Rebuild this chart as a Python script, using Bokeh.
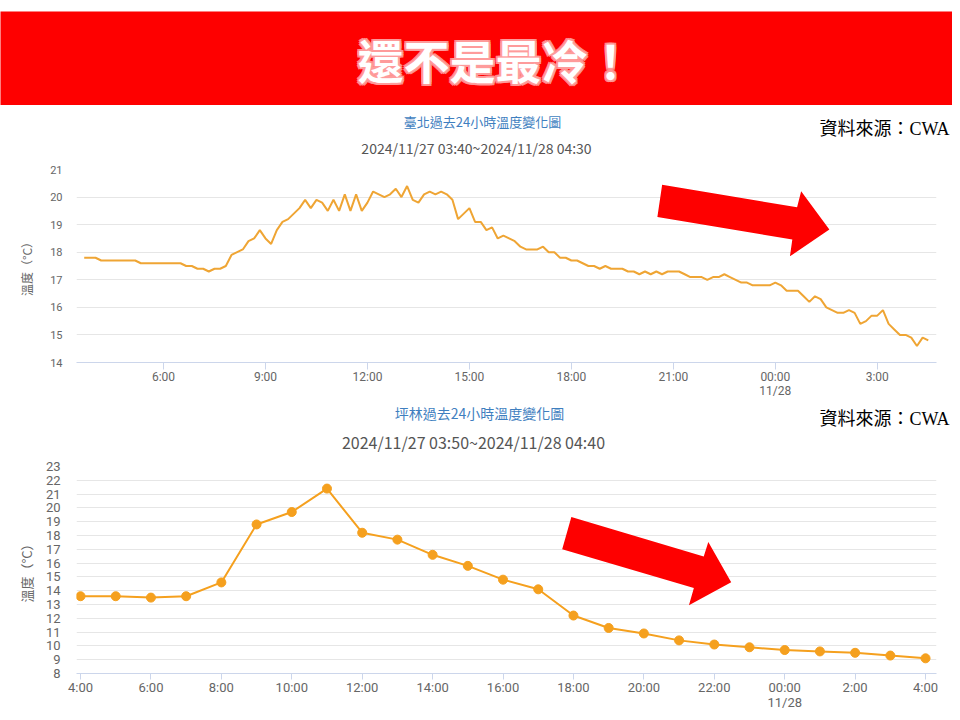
from bokeh.plotting import figure
from bokeh.layouts import column
from bokeh.models import Range1d, FixedTicker, Label, PolyAnnotation, Spacer
from bokeh.embed import file_html
from bokeh.resources import INLINE

# ---------------- data ----------------
# Taipei: 10-minute readings, 2024/11/27 03:40 -> 2024/11/28 04:30 (hours since 11/27 00:00)
taipei_start_hour = 3 + 40 / 60
taipei_step_hours = 10 / 60
taipei_temp = [
    17.8, 17.8, 17.8, 17.7, 17.7, 17.7, 17.7, 17.7, 17.7, 17.7,
    17.6, 17.6, 17.6, 17.6, 17.6, 17.6, 17.6, 17.6, 17.5, 17.5,
    17.4, 17.4, 17.3, 17.4, 17.4, 17.5, 17.9, 18.0, 18.1, 18.4,
    18.5, 18.8, 18.5, 18.3, 18.8, 19.1, 19.2, 19.4, 19.6, 19.9,
    19.6, 19.9, 19.8, 19.5, 19.9, 19.5, 20.1, 19.5, 20.1, 19.5,
    19.8, 20.2, 20.1, 20.0, 20.1, 20.3, 20.0, 20.4, 19.9, 19.8,
    20.1, 20.2, 20.1, 20.2, 20.1, 19.9, 19.2, 19.4, 19.6, 19.1,
    19.1, 18.8, 18.9, 18.5, 18.6, 18.5, 18.4, 18.2, 18.1, 18.1,
    18.1, 18.2, 18.0, 18.0, 17.8, 17.8, 17.7, 17.7, 17.6, 17.5,
    17.5, 17.4, 17.5, 17.4, 17.4, 17.4, 17.3, 17.3, 17.2, 17.3,
    17.2, 17.3, 17.2, 17.3, 17.3, 17.3, 17.2, 17.1, 17.1, 17.1,
    17.0, 17.1, 17.1, 17.2, 17.1, 17.0, 16.9, 16.9, 16.8, 16.8,
    16.8, 16.8, 16.9, 16.8, 16.6, 16.6, 16.6, 16.4, 16.2, 16.4,
    16.3, 16.0, 15.9, 15.8, 15.8, 15.9, 15.8, 15.4, 15.5, 15.7,
    15.7, 15.9, 15.4, 15.2, 15.0, 15.0, 14.9, 14.6, 14.9, 14.8,
]
taipei_hours = [taipei_start_hour + i * taipei_step_hours for i in range(len(taipei_temp))]

# Pinglin: hourly readings, 11/27 04:00 -> 11/28 04:00 (hours since 11/27 00:00)
pinglin_hours = [4, 5, 6, 7, 8, 9, 10, 11, 12, 13, 14, 15, 16, 17, 18, 19, 20,
                 21, 22, 23, 24, 25, 26, 27, 28]
pinglin_temp = [13.6, 13.6, 13.5, 13.6, 14.6, 18.8, 19.7, 21.4, 18.2, 17.7, 16.6,
                15.8, 14.8, 14.1, 12.2, 11.3, 10.9, 10.4, 10.1, 9.9, 9.7, 9.6,
                9.5, 9.3, 9.1]

top_ticks = [6, 9, 12, 15, 18, 21, 24, 27]
top_tick_labels = ["6:00", "9:00", "12:00", "15:00", "18:00", "21:00", "00:00\n11/28", "3:00"]
top_yticks = [14, 15, 16, 17, 18, 19, 20, 21]

bottom_ticks = [4, 6, 8, 10, 12, 14, 16, 18, 20, 22, 24, 26, 28]
bottom_tick_labels = ["4:00", "6:00", "8:00", "10:00", "12:00", "14:00", "16:00",
                      "18:00", "20:00", "22:00", "00:00\n11/28", "2:00", "4:00"]
bottom_yticks = list(range(8, 24))

# decorative arrows (data coordinates of each chart)
top_arrow_x = [20.67, 24.64, 24.76, 25.59, 24.43, 24.50, 20.53]
top_arrow_y = [20.45, 19.63, 20.21, 18.82, 17.85, 18.46, 19.28]
bottom_arrow_x = [17.94, 21.70, 21.83, 22.48, 21.28, 21.42, 17.68]
bottom_arrow_y = [19.34, 16.48, 17.52, 14.62, 12.95, 14.19, 17.00]

CJK = "Noto Sans CJK TC"
NUM = "Roboto"
SERIF = "'Liberation Serif', 'Noto Sans CJK TC'"
W = 952
BL, BR = 76, 16         # chart frame borders (frame spans x 76..936)
RED = "#fe0000"


def plain(height, y0, y1, fill="white"):
    p = figure(width=W, height=height, x_range=Range1d(0, W), y_range=Range1d(y0, y1),
               x_axis_type=None, y_axis_type=None, toolbar_location=None, output_backend="svg",
               min_border=0)
    p.outline_line_color = None
    p.background_fill_color = fill
    p.border_fill_color = fill
    return p


# ---------------- banner ----------------
banner = plain(94, 105, 11, fill=RED)
for dx, dy in [(-2, 0), (2, 0), (0, -2), (0, 2), (-2, -2), (2, 2), (-2, 2), (2, -2)]:
    banner.add_layout(Label(x=495, y=58, x_offset=dx, y_offset=dy, text="還不是最冷！",
                            text_font=CJK, text_font_size="46px", text_font_style="bold",
                            text_color="#ff9c9c", text_alpha=0.9,
                            text_align="center", text_baseline="middle"))
banner.add_layout(Label(x=495, y=58, text="還不是最冷！", text_font=CJK,
                        text_font_size="46px", text_font_style="bold", text_color="white",
                        text_align="center", text_baseline="middle"))


def header(height, y0, y1, title, ty, tx, tsize, sub, sy, sx, ssize, srcy):
    h = plain(height, y0, y1)
    h.add_layout(Label(x=tx, y=ty, text=title, text_font=CJK, text_font_size=tsize,
                       text_color="#3f7fbf", text_align="center", text_baseline="middle"))
    h.add_layout(Label(x=sx, y=sy, text=sub, text_font=CJK, text_font_size=ssize,
                       text_color="#555555", text_align="center", text_baseline="middle"))
    h.add_layout(Label(x=949, y=srcy, text="資料來源：CWA", text_font=SERIF,
                       text_font_size="18px", text_color="black", text_align="right",
                       text_baseline="middle"))
    return h


def style_chart(p, ticks, labels, yticks, xtick_size, ytick_size, ylab_size, ylab_standoff,
                ystandoff, tick_out):
    p.outline_line_color = None
    p.xgrid.visible = False
    p.ygrid.grid_line_color = "#e6e6e6"
    p.ygrid.ticker = FixedTicker(ticks=yticks)
    p.xaxis.ticker = FixedTicker(ticks=ticks)
    p.xaxis.major_label_overrides = dict(zip(ticks, labels))
    p.xaxis.axis_line_color = "#ccd6eb"
    p.xaxis.major_tick_line_color = "#ccd6eb"
    p.xaxis.major_tick_out = tick_out
    p.xaxis.major_tick_in = 0
    p.xaxis.minor_tick_line_color = None
    p.xaxis.major_label_standoff = 0
    p.xaxis.axis_label_standoff = 0
    p.xaxis.major_label_text_color = "#666666"
    p.xaxis.major_label_text_font = NUM
    p.xaxis.major_label_text_font_size = xtick_size
    p.xaxis.major_label_text_line_height = 1.0
    p.yaxis.ticker = FixedTicker(ticks=yticks)
    p.yaxis.axis_line_color = None
    p.yaxis.major_tick_line_color = None
    p.yaxis.minor_tick_line_color = None
    p.yaxis.major_tick_out = 0
    p.yaxis.major_tick_in = 0
    p.yaxis.major_label_standoff = ystandoff
    p.yaxis.major_label_text_color = "#666666"
    p.yaxis.major_label_text_font = NUM
    p.yaxis.major_label_text_font_size = ytick_size
    p.yaxis.axis_label = "溫度（°C）"
    p.yaxis.axis_label_text_font = CJK
    p.yaxis.axis_label_text_font_style = "normal"
    p.yaxis.axis_label_text_font_size = ylab_size
    p.yaxis.axis_label_text_color = "#666666"
    p.yaxis.axis_label_standoff = ylab_standoff


# ---------------- Taipei chart ----------------
head1 = header(54, 159, 105, "臺北過去24小時溫度變化圖", 121, 482, "13px",
               "2024/11/27 03:40~2024/11/28 04:30", 147, 476, "14px", 128)

top = figure(width=W, height=241, x_range=Range1d(3.44, 28.742), y_range=Range1d(14, 21),
             toolbar_location=None, output_backend="svg",
             min_border_left=BL, min_border_right=BR, min_border_top=10, min_border_bottom=35)
style_chart(top, top_ticks, top_tick_labels, top_yticks, "12px", "11px", "12px", 12, 14, 7)
top.line(taipei_hours, taipei_temp, line_color="#efa534", line_width=2)
top.add_layout(PolyAnnotation(xs=top_arrow_x, ys=top_arrow_y, fill_color=RED,
                              fill_alpha=1, line_color=None))

# ---------------- Pinglin chart ----------------
head2 = header(56, 456, 400, "坪林過去24小時溫度變化圖", 412, 479, "14px",
               "2024/11/27 03:50~2024/11/28 04:40", 441, 473, "16px", 418.5)

bottom = figure(width=W, height=256, x_range=Range1d(3.886, 28.311), y_range=Range1d(8, 23),
                toolbar_location=None, output_backend="svg",
                min_border_left=BL, min_border_right=BR, min_border_top=10, min_border_bottom=36)
style_chart(bottom, bottom_ticks, bottom_tick_labels, bottom_yticks, "13px", "13px", "13px",
            7, 16, 6)
bottom.line(pinglin_hours, pinglin_temp, line_color="#f5a01e", line_width=2)
bottom.scatter(pinglin_hours, pinglin_temp, size=9, fill_color="#f5a01e", line_color="#f5a01e")
bottom.add_layout(PolyAnnotation(xs=bottom_arrow_x, ys=bottom_arrow_y, fill_color=RED,
                                 fill_alpha=1, line_color=None))

layout = column(Spacer(width=W, height=11), banner, head1, column(top, spacing=0), head2,
                column(bottom, spacing=0), spacing=0)
open("out.html", "w").write(file_html(layout, INLINE))
